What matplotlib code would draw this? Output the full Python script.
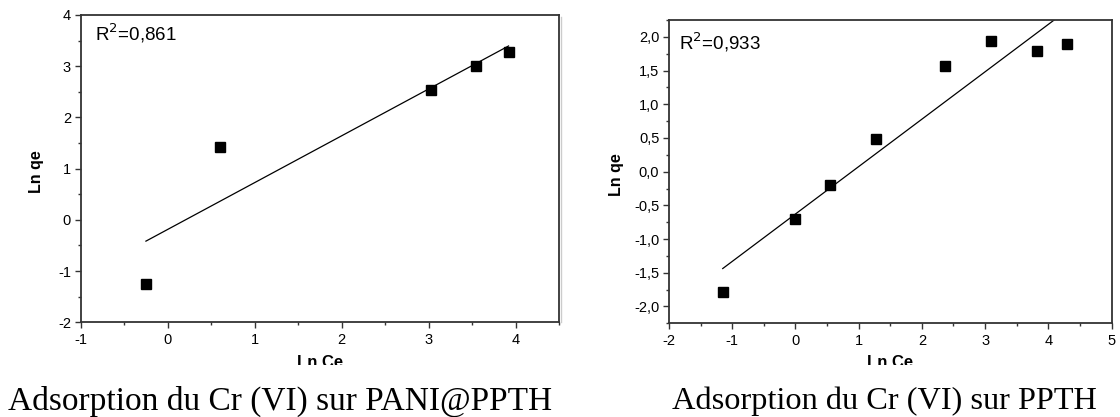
import numpy as np
import matplotlib
matplotlib.use("Agg")
import matplotlib.pyplot as plt
from matplotlib.patches import Rectangle
from matplotlib.lines import Line2D
from matplotlib.ticker import MultipleLocator, FuncFormatter

# PANI@PPTH
ln_ce_a = [-0.25, 0.6, 3.03, 3.55, 3.92]
ln_qe_a = [-1.25, 1.43, 2.53, 3.0, 3.27]
r2_a = "0,861"

# PPTH
ln_ce_b = [-1.15, 0.0, 0.55, 1.27, 2.37, 3.1, 3.82, 4.3]
ln_qe_b = [-1.78, -0.7, -0.2, 0.48, 1.57, 1.94, 1.79, 1.9]
r2_b = "0,933"

captions = ["Adsorption du Cr (VI) sur PANI@PPTH", "Adsorption du Cr (VI) sur PPTH"]

plt.rcParams['font.family'] = ['Liberation Sans', 'DejaVu Sans']

W, H = 1120, 417
fig = plt.figure(figsize=(W/100, H/100), dpi=100)
ax1 = fig.add_axes([80.7/W, 1 - 322.3/H, 478.3/W, 307.3/H])
ax2 = fig.add_axes([669/W, 1 - 323.3/H, 442.5/W, 303.3/H])

comma = FuncFormatter(lambda v, p: f"{v:.1f}".replace(".", ","))
intf = FuncFormatter(lambda v, p: f"{v:g}")

def style(ax, xs, ys, r2, xlim, ylim, ymaj, yfmt, txy, ylab_x, xlab_y):
    k, b = np.polyfit(xs, ys, 1)
    xl = np.array([min(xs), max(xs)])
    ax.plot(xl, k*xl + b, color="black", lw=0.9)
    ax.plot(xs, ys, "s", color="black", ms=6.5)
    ax.set_xlim(*xlim); ax.set_ylim(*ylim)
    ax.xaxis.set_major_locator(MultipleLocator(1))
    ax.xaxis.set_minor_locator(MultipleLocator(0.5))
    ax.yaxis.set_major_locator(MultipleLocator(ymaj))
    ax.yaxis.set_minor_locator(MultipleLocator(ymaj/2))
    ax.xaxis.set_major_formatter(intf)
    ax.yaxis.set_major_formatter(yfmt)
    ax.tick_params(which="both", direction="out", labelsize=10.5, color="#333333")
    ax.tick_params(axis="x", pad=4)
    ax.tick_params(axis="y", pad=3)
    ax.tick_params(which="major", length=4, width=1)
    ax.tick_params(which="minor", length=2.5, width=1)
    for s in ax.spines.values():
        s.set_linewidth(1.3); s.set_color("#333333")
    ax.set_xlabel("Ln Ce", fontsize=12, fontweight="bold")
    ax.set_ylabel("Ln qe", fontsize=11.5, fontweight="bold")
    ax.xaxis.set_label_coords(0.5, xlab_y)
    ax.yaxis.set_label_coords(ylab_x, 0.49)
    ax.text(txy[0], txy[1], "R$^2$=" + r2, transform=ax.transAxes,
            fontsize=13.5, va="center", ha="left")

style(ax1, ln_ce_a, ln_qe_a, r2_a, (-1, 4.5), (-2, 4), 1, intf,
      (0.030, 0.941), -0.076, -0.108)
style(ax2, ln_ce_b, ln_qe_b, r2_b, (-2, 5), (-2.25, 2.25), 0.5, comma,
      (0.023, 0.927), -0.102, -0.106)

# caption band hides the bottom of the x labels
fig.add_artist(Rectangle((0, 0), 1, 1 - 365/H, transform=fig.transFigure,
                         facecolor="white", edgecolor="none", zorder=5))
fig.add_artist(Line2D([561/W, 561/W], [1 - 322/H, 1 - 17/H],
                      transform=fig.transFigure, color="#cccccc", lw=1, zorder=5))

fig.text(280.5/W, 1 - 410/H, captions[0], family="Liberation Serif",
         fontsize=24, ha="center", va="baseline", zorder=6)
fig.text(884/W, 1 - 409/H, captions[1], family="Liberation Serif",
         fontsize=23.3, ha="center", va="baseline", zorder=6)

fig.savefig("out.png", dpi=100)
